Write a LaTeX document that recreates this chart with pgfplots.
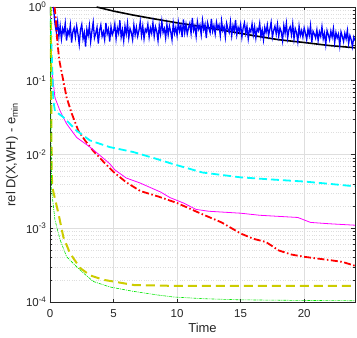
\documentclass[border=0pt]{standalone}
\usepackage{fontspec}
\setmainfont{Liberation Sans}
\usepackage{pgfplots}
\pgfplotsset{compat=1.18}
\definecolor{axgray}{RGB}{38,38,38}
\definecolor{gridgray}{RGB}{222,222,222}
\definecolor{mblue}{RGB}{0,0,255}
\definecolor{mred}{RGB}{255,0,0}
\definecolor{mmag}{RGB}{255,0,255}
\definecolor{mcyan}{RGB}{0,255,255}
\definecolor{myel}{RGB}{204,204,0}
\definecolor{mgreen}{RGB}{0,230,0}
\begin{document}
\begin{tikzpicture}[baseline=(current bounding box.south)]
\begin{axis}[name=ax,
  scale only axis, width=305pt, height=295pt,
  ymode=log, xmin=0, xmax=24, ymin=1e-4, ymax=1,
  xtick={0,5,10,15,20},
  ytick={1e-4,1e-3,1e-2,1e-1,1},
  yticklabels={10\textsuperscript{-4},10\textsuperscript{-3},10\textsuperscript{-2},10\textsuperscript{-1},10\textsuperscript{0}},
  /pgf/number format/assume math mode=true,
  grid=both,
  major grid style={gridgray, line width=0.5pt},
  minor grid style={gridgray, dotted, line width=0.5pt},
  tick align=inside,
  axis line style={axgray, line width=0.5pt},
  major tick style={axgray, line width=0.5pt},
  minor tick style={axgray, line width=0.5pt},
  major tick length=3.5pt, minor tick length=2pt,
  tick label style={font=\fontsize{11.5}{13}\selectfont, text=axgray},
  label style={font=\fontsize{13}{15}\selectfont, text=axgray},
  xticklabel style={yshift=-4pt},
  xlabel={Time},
  ylabel={rel D(X,WH) - e\textsubscript{min}},
  xlabel style={yshift=1pt},
  ylabel style={yshift=1pt},
]
% black reference curve
\addplot[black, line width=1.6pt] coordinates {
(3.67,1.0) (5,0.88) (6.5,0.78) (8,0.70) (10,0.61) (12,0.54) (14,0.47)
(16,0.41) (18,0.36) (20,0.33) (22,0.30) (24,0.28)
};
% blue noisy curve
\addplot[mblue, line width=1.3pt] coordinates {
(0.25,1.0) (0.3,0.9) (0.35,0.7)
(0.4,0.58) (0.5,0.46) (0.6,0.63) (0.7,0.40) (0.8,0.55) (0.9,0.37)
(1.0,0.51) (1.1,0.44) (1.2,0.60) (1.3,0.35) (1.4,0.48) (1.5,0.42) (1.6,0.57) (1.7,0.33) (1.8,0.46) (1.9,0.52)
(2.0,0.39) (2.1,0.55) (2.2,0.43) (2.3,0.31) (2.4,0.49) (2.5,0.58) (2.6,0.37) (2.7,0.45) (2.8,0.29) (2.9,0.50)
(3.0,0.41) (3.1,0.56) (3.2,0.34) (3.3,0.47) (3.4,0.62) (3.5,0.38) (3.6,0.44) (3.7,0.53) (3.8,0.32) (3.9,0.48)
(4.0,0.57) (4.1,0.40) (4.2,0.46) (4.3,0.36) (4.4,0.61) (4.5,0.43) (4.6,0.50) (4.7,0.34) (4.8,0.54) (4.9,0.42)
(5.0,0.47) (5.1,0.59) (5.2,0.37) (5.3,0.52) (5.4,0.44) (5.5,0.66) (5.6,0.39) (5.7,0.49) (5.8,0.35) (5.9,0.55)
(6.0,0.43) (6.1,0.60) (6.2,0.38) (6.3,0.51) (6.4,0.45) (6.5,0.36) (6.6,0.57) (6.7,0.42) (6.8,0.53) (6.9,0.40)
(7.0,0.48) (7.1,0.63) (7.2,0.41) (7.3,0.55) (7.4,0.37) (7.5,0.50) (7.6,0.46) (7.7,0.58) (7.8,0.39) (7.9,0.52)
(8.0,0.44) (8.1,0.61) (8.2,0.40) (8.3,0.54) (8.4,0.47) (8.5,0.35) (8.6,0.56) (8.7,0.43) (8.8,0.64) (8.9,0.45)
(9.0,0.51) (9.1,0.38) (9.2,0.58) (9.3,0.42) (9.4,0.55) (9.5,0.46) (9.6,0.36) (9.7,0.60) (9.8,0.44) (9.9,0.53)
(10.0,0.41) (10.1,0.62) (10.2,0.47) (10.3,0.56) (10.4,0.39) (10.5,0.68) (10.6,0.45) (10.7,0.58) (10.8,0.43) (10.9,0.52)
(11.0,0.60) (11.1,0.44) (11.2,0.71) (11.3,0.48) (11.4,0.55) (11.5,0.40) (11.6,0.63) (11.7,0.50) (11.8,0.57) (11.9,0.42)
(12.0,0.66) (12.1,0.49) (12.2,0.58) (12.3,0.38) (12.4,0.61) (12.5,0.52) (12.6,0.45) (12.7,0.69) (12.8,0.47) (12.9,0.56)
(13.0,0.43) (13.1,0.62) (13.2,0.51) (13.3,0.57) (13.4,0.41) (13.5,0.65) (13.6,0.48) (13.7,0.54) (13.8,0.39) (13.9,0.60)
(14.0,0.50) (14.1,0.45) (14.2,0.63) (14.3,0.41) (14.4,0.56) (14.5,0.47) (14.6,0.67) (14.7,0.42) (14.8,0.53) (14.9,0.46)
(15.0,0.58) (15.1,0.39) (15.2,0.52) (15.3,0.61) (15.4,0.44) (15.5,0.55) (15.6,0.37) (15.7,0.50) (15.8,0.46) (15.9,0.59)
(16.0,0.42) (16.1,0.54) (16.2,0.38) (16.3,0.51) (16.4,0.47) (16.5,0.60) (16.6,0.40) (16.7,0.49) (16.8,0.36) (16.9,0.53)
(17.0,0.45) (17.1,0.57) (17.2,0.41) (17.3,0.50) (17.4,0.62) (17.5,0.39) (17.6,0.48) (17.7,0.55) (17.8,0.43) (17.9,0.58)
(18.0,0.40) (18.1,0.52) (18.2,0.46) (18.3,0.35) (18.4,0.56) (18.5,0.44) (18.6,0.60) (18.7,0.38) (18.8,0.49) (18.9,0.54)
(19.0,0.42) (19.1,0.59) (19.2,0.37) (19.3,0.51) (19.4,0.45) (19.5,0.34) (19.6,0.55) (19.7,0.41) (19.8,0.48) (19.9,0.39)
(20.0,0.52) (20.1,0.44) (20.2,0.36) (20.3,0.50) (20.4,0.41) (20.5,0.56) (20.6,0.33) (20.7,0.47) (20.8,0.43) (20.9,0.38)
(21.0,0.49) (21.1,0.35) (21.2,0.46) (21.3,0.40) (21.4,0.54) (21.5,0.37) (21.6,0.44) (21.7,0.31) (21.8,0.48) (21.9,0.42)
(22.0,0.36) (22.1,0.47) (22.2,0.39) (22.3,0.51) (22.4,0.33) (22.5,0.45) (22.6,0.38) (22.7,0.43) (22.8,0.30) (22.9,0.46)
(23.0,0.40) (23.1,0.34) (23.2,0.44) (23.3,0.37) (23.4,0.48) (23.5,0.32) (23.6,0.41) (23.7,0.36) (23.8,0.29) (23.9,0.39)
(24.0,0.35)
};
% red dash-dot
\addplot[mred, line width=1.8pt, dash pattern=on 7pt off 2.5pt on 1.5pt off 2.5pt] coordinates {
(0.36,1.0) (0.39,0.9) (0.47,0.65) (0.57,0.35) (0.73,0.19) (1.05,0.10) (1.31,0.059)
(1.71,0.036) (2.23,0.021) (2.76,0.0155) (3.4,0.0112) (4.2,0.0080) (5.0,0.0058)
(6.0,0.0042) (7.1,0.0032) (8.5,0.0027) (10.0,0.0022) (11.8,0.0016) (13.5,0.0012)
(15.0,0.00085) (16.0,0.00072) (17.0,0.00065) (18.0,0.00050) (19.0,0.00044)
(20.0,0.00041) (22.0,0.00037) (23.0,0.00035) (24.0,0.00031)
};
% magenta solid
\addplot[mmag, line width=0.8pt] coordinates {
(0.02,1.0) (0.13,0.15) (0.39,0.059) (0.79,0.039) (1.31,0.026) (2.1,0.017)
(3.15,0.0126) (3.94,0.0097) (4.7,0.0075) (5.1,0.0062) (6.0,0.0048) (7.1,0.0041)
(8.0,0.0035) (8.7,0.0031) (9.45,0.0026) (10.5,0.0022) (11.5,0.0018) (12.5,0.0017)
(15.0,0.0016) (16.5,0.0015) (19.5,0.0014) (20.5,0.0012) (22.0,0.00115) (24.0,0.0011)
};
% cyan dashed
\addplot[mcyan, line width=1.8pt, dash pattern=on 8pt off 4pt] coordinates {
(0.0,1.0) (0.15,0.2) (0.26,0.054) (0.39,0.039) (1.05,0.032) (2.1,0.021) (3.15,0.0155)
(4.7,0.0126) (6.56,0.0108) (8.4,0.0087) (9.7,0.0074) (12.0,0.0057) (15.0,0.0049)
(17.3,0.0046) (20.0,0.0043) (22.0,0.0040) (24.0,0.0037)
};
% yellow dashed
\addplot[myel, line width=2pt, dash pattern=on 9pt off 5pt] coordinates {
(0.05,1.0) (0.1,0.05) (0.13,0.006) (0.18,0.0036) (0.66,0.0016) (1.05,0.00076)
(1.57,0.00046) (2.36,0.00029) (3.15,0.00023) (4.2,0.00020) (6.6,0.00017)
(10.0,0.000165) (15.0,0.000165) (24.0,0.000165)
};
% green dash-dot thin
\addplot[mgreen, line width=0.6pt, dash pattern=on 3pt off 1pt on 1pt off 1pt] coordinates {
(0.03,1.0) (0.08,0.02) (0.13,0.0032) (0.39,0.0013) (0.79,0.0007) (1.31,0.00041)
(2.1,0.00030) (2.6,0.00025) (3.4,0.00019) (4.7,0.00016) (6.5,0.00014) (8.4,0.000125)
(9.7,0.000117) (12.0,0.000111) (15.0,0.000107) (20.0,0.000105) (24.0,0.000104)
};
\end{axis}
% fix the page to the reference's margins round the axis
\pgfresetboundingbox
\path[use as bounding box] (-50pt,-36pt) rectangle (307pt,302pt);
\end{tikzpicture}
\end{document}
